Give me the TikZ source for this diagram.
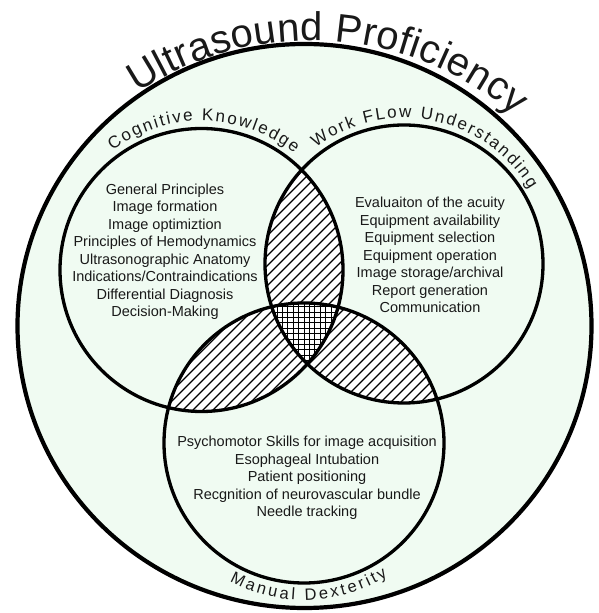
\documentclass[tikz,border=0pt]{standalone}
\usepackage{fontspec}
\setmainfont{Liberation Sans}
\definecolor{mint}{RGB}{240,251,242}
\definecolor{ink}{RGB}{25,25,25}
\newdimen\accw
\newdimen\chw
\newcount\chcount
\newcommand\mwidth[1]{\pgfinterruptpicture\settowidth{\chw}{#1}\global\chw=\chw\endpgfinterruptpicture}
\newcommand\measurechars[2]{%
  \global\accw=0pt\global\chcount=0
  \foreach \c in {#2}{\mwidth{#1\c}\global\advance\accw by \chw\global\advance\chcount by 1}}
\newcommand\toparc[7]{%
  \measurechars{#6}{#7}%
  \pgfmathsetmacro\totlen{\accw+(\chcount-1)*#5}%
  \pgfmathsetmacro\startang{#4+\totlen/(#3)*90/pi}%
  \global\accw=0pt
  \foreach \c in {#7}{%
    \mwidth{#6\c}%
    \pgfmathsetmacro\ang{\startang-(\accw+0.5*\chw)/(#3)*180/pi}%
    \pgfmathsetmacro\px{#1+(#3)*cos(\ang)}%
    \pgfmathsetmacro\py{#2+(#3)*sin(\ang)}%
    \node[arcchar,rotate=\ang-90] at (\px,\py) {#6\c};
    \global\advance\accw by \chw
    \global\advance\accw by #5pt}}
\newcommand\botarc[7]{%
  \measurechars{#6}{#7}%
  \pgfmathsetmacro\totlen{\accw+(\chcount-1)*#5}%
  \pgfmathsetmacro\startang{#4-\totlen/(#3)*90/pi}%
  \global\accw=0pt
  \foreach \c in {#7}{%
    \mwidth{#6\c}%
    \pgfmathsetmacro\ang{\startang+(\accw+0.5*\chw)/(#3)*180/pi}%
    \pgfmathsetmacro\px{#1+(#3)*cos(\ang)}%
    \pgfmathsetmacro\py{#2+(#3)*sin(\ang)}%
    \node[arcchar,rotate=\ang+90] at (\px,\py) {#6\c};
    \global\advance\accw by \chw
    \global\advance\accw by #5pt}}
\newcommand\titlefont{\fontsize{40}{40}\selectfont}
\newcommand\labfont{\fontsize{17}{17}\selectfont}
\newcommand\manfont{\fontsize{16.5}{16.5}\selectfont}
\begin{document}
\begin{tikzpicture}[x=1pt,y=1pt,
  arcchar/.style={anchor=base,inner sep=0pt,text=ink},
  bigring/.style={line width=4.2pt,draw=black},
  ring/.style={line width=3.3pt,draw=black},
  hatch/.style={line width=1.3pt,black},
  gridline/.style={line width=0.7pt,black},
  listtext/.style={align=center,font=\fontsize{14.5}{17.5}\selectfont,text=ink,inner sep=0pt}]
\useasboundingbox (0,0) rectangle (599,613);
\coordinate (O) at (304.5,287);
\coordinate (L) at (201.5,343);
\coordinate (R) at (404,349);
\coordinate (B) at (304,170);
% big circle
\fill[mint] (O) ellipse[x radius=287pt,y radius=282pt];
% pair lenses
\begin{scope}
  \clip (L) circle[radius=141.5pt];
  \clip (R) circle[radius=139pt];
  \fill[white] (0,0) rectangle (599,613);
  \foreach \k in {-620,-610,...,600} \draw[hatch] (\k,0) -- ++(613,613);
\end{scope}
\begin{scope}
  \clip (L) circle[radius=141.5pt];
  \clip (B) circle[radius=140pt];
  \fill[white] (0,0) rectangle (599,613);
  \foreach \k in {-620,-610,...,600} \draw[hatch] (\k,0) -- ++(613,613);
\end{scope}
\begin{scope}
  \clip (R) circle[radius=139pt];
  \clip (B) circle[radius=140pt];
  \fill[white] (0,0) rectangle (599,613);
  \foreach \k in {-620,-610,...,600} \draw[hatch] (\k,0) -- ++(613,613);
\end{scope}
% triple region
\begin{scope}
  \clip (L) circle[radius=141.5pt];
  \clip (R) circle[radius=139pt];
  \clip (B) circle[radius=140pt];
  \fill[white] (0,0) rectangle (599,613);
  \foreach \k in {250,255.4,...,360} \draw[gridline] (\k,220) -- (\k,330);
  \foreach \k in {220,225.4,...,330} \draw[gridline] (250,\k) -- (360,\k);
\end{scope}
% outlines
\draw[bigring] (O) ellipse[x radius=287pt,y radius=282pt];
\draw[ring] (L) circle[radius=141.5pt];
\draw[ring] (R) circle[radius=139pt];
\draw[ring] (B) circle[radius=140pt];
% lists
\node[listtext] (cogtext) at (165,361) {General Principles\\Image formation\\Image optimiztion\\Principles of Hemodynamics\\Ultrasonographic Anatomy\\Indications/Contraindications\\Differential Diagnosis\\Decision-Making};
\node[listtext] (worktext) at (430,358) {Evaluaiton of the acuity\\Equipment availability\\Equipment selection\\Equipment operation\\Image storage/archival\\Report generation\\Communication};
\node[listtext] (mantext) at (307,135) {Psychomotor Skills for image acquisition\\Esophageal Intubation\\Patient positioning\\Recgnition of neurovascular bundle\\Needle tracking};
% arc labels
\toparc{311}{259.5}{313}{86.5}{0.3}{\titlefont}{U,l,t,r,a,s,o,u,n,d,~,P,r,o,f,i,c,i,e,n,c,y}
\toparc{201.5}{343}{149}{89}{2}{\labfont}{C,o,g,n,i,t,i,v,e,~,K,n,o,w,l,e,d,g,e}
\toparc{404}{349}{146}{79}{2}{\labfont}{W,o,r,k,~,F,L,o,w,~,U,n,d,e,r,s,t,a,n,d,i,n,g}
\botarc{304}{170}{157}{272}{2.8}{\manfont}{M,a,n,u,a,l,~,D,e,x,t,e,r,i,t,y}
\end{tikzpicture}
\end{document}
